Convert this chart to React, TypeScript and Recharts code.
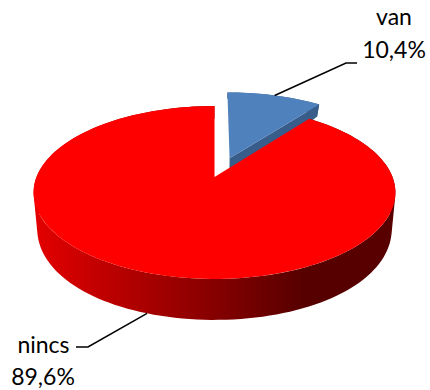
import React from 'react';
import { PieChart, Pie } from 'recharts';

const names = ['van', 'nincs'];
const values = [10.4, 89.6];
const topColors = ['#4f81bd', '#ff0000'];
const wallColors = ['#385d8a', 'url(#redWall)'];
const explode = [0.25, 0];

const data = names.map((name, i) => ({ name, value: values[i], fill: topColors[i] }));

// fake perspective: the flat pie angles get pushed through this projection
const CX = 214.5;
const CY = 177;
const RADIUS = 178;
const FLATTEN = 0.47;
const PERSP = 0.179;
const RAD = Math.PI / 180;
const EXPLODE_TILT = 2;

const wallDepth = (v: number) => 33.7 - 14.1 * v - 6.8 * v * v;

const project = (u: number, v: number, bottom = false) => {
  const den = 1 + PERSP * v;
  const x = (RADIUS * u) / den;
  const y = CY - (RADIUS * FLATTEN * v) / den;
  if (!bottom) return { x: CX + x, y };
  return { x: CX + x * 0.98, y: y + wallDepth(v) };
};

type Pt = { x: number; y: number };

const pts = (list: Pt[]) =>
  list.map(p => `${p.x.toFixed(1)},${p.y.toFixed(1)}`).join(' ');

const offsetFor = (name: string, mid: number) => {
  const e = explode[names.indexOf(name)] || 0;
  const a = (mid - EXPLODE_TILT) * RAD;
  return { ou: e * Math.cos(a), ov: e * Math.sin(a) };
};

// one path of same-winding quads, so the wall has no notch at the pie's sides and no seams
const wallPath = (top: Pt[], bottom: Pt[]) => {
  let d = '';
  for (let i = 0; i < top.length - 1; i++) {
    const quad = [top[i], top[i + 1], bottom[i + 1], bottom[i]];
    let area = 0;
    quad.forEach((p, k) => {
      const q = quad[(k + 1) % 4];
      area += p.x * q.y - q.x * p.y;
    });
    if (area < 0) quad.reverse();
    d += 'M' + quad.map(p => `${p.x.toFixed(2)} ${p.y.toFixed(2)}`).join('L') + 'Z';
  }
  return d;
};

const Slice3D = (props: any) => {
  const { startAngle, endAngle, name } = props;
  const label = name ?? props.payload?.name;
  const i = names.indexOf(label);
  const { ou, ov } = offsetFor(label, (startAngle + endAngle) / 2);

  const rim: [number, number][] = [];
  const steps = Math.ceil(Math.abs(endAngle - startAngle) / 2);
  for (let s = 0; s <= steps; s++) {
    const a = (startAngle + ((endAngle - startAngle) * s) / steps) * RAD;
    rim.push([ou + Math.cos(a), ov + Math.sin(a)]);
  }
  const top = rim.map(([u, v]) => project(u, v));
  const bottom = rim.map(([u, v]) => project(u, v, true));
  const apex = project(ou, ov);
  const apexLow = project(ou, ov, true);
  const lastTop = top[top.length - 1];
  const lastBottom = bottom[bottom.length - 1];

  return (
    <g>
      <path d={wallPath(top, bottom)} fill={wallColors[i]} />
      {explode[i] > 0 && (
        <polygon points={pts([apex, lastTop, lastBottom, apexLow])} fill={wallColors[i]} />
      )}
      <polygon points={pts([apex, ...top])} fill={topColors[i]} />
    </g>
  );
};

const renderLabel = (props: any) => {
  const { name, value, midAngle } = props;
  const pct = `${value.toFixed(1).replace('.', ',')}%`;
  const { ou, ov } = offsetFor(name, midAngle);
  const u = ou + Math.cos(midAngle * RAD);
  const v = ov + Math.sin(midAngle * RAD);
  const font = { fontFamily: 'Lato', fontSize: 23, fill: '#000' };
  if (name === 'van') {
    const start = project(u, v);
    return (
      <g>
        <polyline points={`${start.x},${start.y} 346,63 357,63`} fill="none" stroke="#000" strokeWidth={1.5} />
        <text x={394} y={25} textAnchor="middle" {...font}>{name}</text>
        <text x={394} y={58} textAnchor="middle" {...font}>{pct}</text>
      </g>
    );
  }
  const start = project(u, v, true);
  return (
    <g>
      <polyline points={`${start.x},${start.y} 88,347 76,347`} fill="none" stroke="#000" strokeWidth={1.5} />
      <text x={43.5} y={353} textAnchor="middle" {...font}>{name}</text>
      <text x={43} y={385} textAnchor="middle" {...font}>{pct}</text>
    </g>
  );
};

export default function App() {
  return (
    <div style={{ position: 'absolute', left: 0, top: 0, width: 430, height: 390 }}>
      <PieChart width={430} height={390} margin={{ top: 0, right: 0, bottom: 0, left: 0 }}>
        <defs>
          <linearGradient id="redWall" gradientUnits="userSpaceOnUse" x1={34} y1={0} x2={395} y2={0}>
            <stop offset="0" stopColor="#e40000" />
            <stop offset="0.25" stopColor="#b40000" />
            <stop offset="0.5" stopColor="#860000" />
            <stop offset="0.75" stopColor="#560000" />
            <stop offset="1" stopColor="#580000" />
          </linearGradient>
        </defs>
        <Pie
          data={data}
          dataKey="value"
          nameKey="name"
          cx={CX}
          cy={CY}
          outerRadius={RADIUS}
          startAngle={90}
          endAngle={-270}
          stroke="none"
          shape={Slice3D}
          label={renderLabel}
          labelLine={false}
          isAnimationActive={false}
        />
      </PieChart>
    </div>
  );
}
